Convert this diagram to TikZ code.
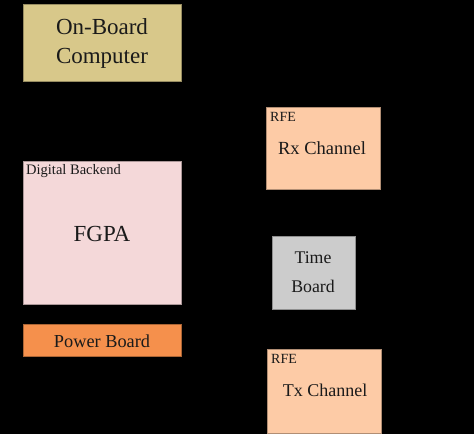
\documentclass[tikz,border=0pt]{standalone}
\usepackage{fontspec}
\setmainfont{Liberation Serif}
\definecolor{obc}{HTML}{D8C88A}
\definecolor{dbe}{HTML}{F4D8D9}
\definecolor{pwr}{HTML}{F5904C}
\definecolor{rfe}{HTML}{FDCBA6}
\definecolor{tbd}{HTML}{CCCCCC}
\definecolor{txt}{HTML}{1A1A1A}
\tikzset{
  blk/.style={draw=#1!70!black, line width=0.6pt, fill=#1},
  lbl/.style={text=txt, inner sep=0pt, align=center},
}
\begin{document}
\begin{tikzpicture}[x=1pt,y=-1pt]
\fill[black] (0,0) rectangle (474,434);
\useasboundingbox (0,0) rectangle (474,434);
% On-Board Computer
\draw[blk=obc] (23,4) rectangle (181,81);
\node[lbl, font=\fontsize{23}{29}\selectfont] (obc) at (102,43) {On-Board\\Computer};
% Digital Backend
\draw[blk=dbe] (23,161) rectangle (181,304);
\node[lbl, anchor=west, font=\fontsize{14.5}{17}\selectfont] (dbl) at (26,171) {Digital Backend};
\node[lbl, font=\fontsize{23}{27}\selectfont] (fpga) at (102,234) {FGPA};
% Power Board
\draw[blk=pwr] (23,324) rectangle (181,356);
\node[lbl, font=\fontsize{18.3}{21}\selectfont] (pwr) at (102,341) {Power Board};
% Rx channel
\draw[blk=rfe] (266,107) rectangle (380,189);
\node[lbl, anchor=west, font=\fontsize{14}{16}\selectfont] (rxl) at (270,117) {RFE};
\node[lbl, font=\fontsize{18.5}{21}\selectfont] (rx) at (322,148) {Rx Channel};
% Time board
\draw[blk=tbd] (272,236) rectangle (355,309);
\node[lbl, font=\fontsize{17.8}{28.5}\selectfont] (tb) at (313,272) {Time\\Board};
% Tx channel
\draw[blk=rfe] (267,349) rectangle (381,433);
\node[lbl, anchor=west, font=\fontsize{14}{16}\selectfont] (txl) at (271,359) {RFE};
\node[lbl, font=\fontsize{18}{21}\selectfont] (tx) at (325,390) {Tx Channel};
\end{tikzpicture}
\end{document}
